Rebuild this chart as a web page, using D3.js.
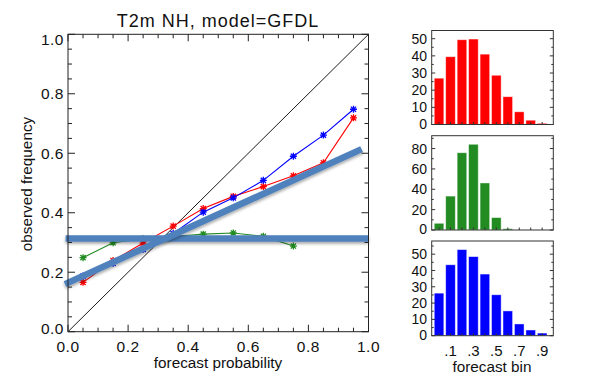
<!DOCTYPE html>
<html>
<head>
<meta charset="utf-8">
<script src="https://cdn.jsdelivr.net/npm/d3@7"></script>
<style>
  html, body { margin: 0; padding: 0; background: #fff; }
  svg { display: block; font-family: "Liberation Sans", Arial, Helvetica, sans-serif; }
</style>
</head>
<body>
<svg id="chart" width="597" height="382"></svg>
<script>
// Reliability diagram: forecast probability bins vs observed frequency
const probBins   = [0.05, 0.15, 0.25, 0.35, 0.45, 0.55, 0.65, 0.75, 0.85, 0.95];
const redObs     = [0.166, 0.239, 0.298, 0.355, 0.414, 0.455, 0.488, 0.524, 0.568, 0.719];
const blueObs    = [0.187, 0.230, 0.277, 0.330, 0.402, 0.450, 0.509, 0.590, 0.661, 0.748];
const greenObs   = [0.249, 0.299, 0.313, 0.320, 0.328, 0.332, 0.321, 0.288];

// Fitted reliability lines
const flatFitX   = [-0.008, 1.0];
const flatFitY   = [0.313, 0.313];
const slopeFitX  = [-0.01, 0.977];
const slopeFitY  = [0.160, 0.614];

const axisTicks  = [0.0, 0.2, 0.4, 0.6, 0.8, 1.0];

// Sharpness histograms (counts per forecast bin)
const binEdges    = [0.0, 0.1, 0.2, 0.3, 0.4, 0.5, 0.6, 0.7, 0.8, 0.9];
const redCounts   = [27.0, 39.5, 49.4, 49.8, 41.0, 28.7, 16.2, 7.4, 2.5, 0.7];
const greenCounts = [6.6, 33.3, 75.9, 84.2, 46.2, 12.2, 1.3, 0, 0, 0];
const blueCounts  = [26.1, 43.5, 52.8, 48.5, 37.8, 25.1, 15.2, 7.2, 3.5, 1.6];
const binLabelAt  = [0.1, 0.3, 0.5, 0.7, 0.9];
const binLabels   = [".1", ".3", ".5", ".7", ".9"];

const RED = "#ff0000", GREEN = "#228b22", BLUE = "#0000ff", FIT = "#4f81bd";

const svg = d3.select("#chart");
const defs = svg.append("defs");
const shadow = defs.append("filter").attr("id", "fitShadow")
  .attr("filterUnits", "userSpaceOnUse")
  .attr("x", 0).attr("y", 0).attr("width", 597).attr("height", 382);
shadow.append("feDropShadow").attr("dx", 0).attr("dy", 2).attr("stdDeviation", 1.4)
  .attr("flood-color", "#000").attr("flood-opacity", 0.35);

// ---------- main reliability panel ----------
const x = d3.scaleLinear().domain([0, 1]).range([68, 368.5]);
const y = d3.scaleLinear().domain([0, 1]).range([331.7, 34.3]);

const main = svg.append("g");

// diagonal of perfect reliability
main.append("line")
  .attr("x1", x(0)).attr("y1", y(0)).attr("x2", x(1)).attr("y2", y(1))
  .attr("stroke", "#000").attr("stroke-width", 0.9);

const line = d3.line().x(d => x(d[0])).y(d => y(d[1]));
const asterisk = "M-3.5,0H3.5M0,-3.5V3.5M-2.6,-2.6L2.6,2.6M-2.6,2.6L2.6,-2.6";

function series(vals, color) {
  const pts = vals.map((v, i) => [probBins[i], v]);
  main.append("path").attr("d", line(pts))
    .attr("fill", "none").attr("stroke", color).attr("stroke-width", 1.1);
  main.append("g").selectAll("path").data(pts).join("path")
    .attr("transform", d => `translate(${x(d[0])},${y(d[1])})`)
    .attr("d", asterisk).attr("stroke", color).attr("stroke-width", 1.3).attr("fill", "none");
}
series(greenObs, GREEN);
series(redObs, RED);
series(blueObs, BLUE);

// fitted lines
[[flatFitX, flatFitY], [slopeFitX, slopeFitY]].forEach(([fx, fy]) => {
  main.append("path").attr("d", line(fx.map((v, i) => [v, fy[i]])))
    .attr("fill", "none").attr("stroke", FIT).attr("stroke-width", 6.5)
    .attr("filter", "url(#fitShadow)");
});

// frame with inward ticks on all sides
main.append("rect")
  .attr("x", x(0)).attr("y", y(1)).attr("width", x(1) - x(0)).attr("height", y(0) - y(1))
  .attr("fill", "none").attr("stroke", "#222").attr("stroke-width", 1);

const minor = d3.range(0, 1.0001, 0.05);
const tickLen = v => (Math.abs(v * 5 - Math.round(v * 5)) < 1e-6 ? 7 : 4);
const tg = main.append("g").attr("stroke", "#222").attr("stroke-width", 1);
minor.forEach(v => {
  const L = tickLen(v);
  tg.append("line").attr("x1", x(v)).attr("x2", x(v)).attr("y1", y(0)).attr("y2", y(0) - L);
  tg.append("line").attr("x1", x(v)).attr("x2", x(v)).attr("y1", y(1)).attr("y2", y(1) + L);
  tg.append("line").attr("y1", y(v)).attr("y2", y(v)).attr("x1", x(0)).attr("x2", x(0) + L);
  tg.append("line").attr("y1", y(v)).attr("y2", y(v)).attr("x1", x(1)).attr("x2", x(1) - L);
});

const fmt = d3.format(".1f");
main.append("g").selectAll("text").data(axisTicks).join("text")
  .attr("x", d => x(d)).attr("y", 352)
  .attr("text-anchor", "middle").attr("font-size", 15.5).attr("letter-spacing", 0.5).attr("fill", "#111")
  .text(fmt);
main.append("g").selectAll("text").data(axisTicks).join("text")
  .attr("x", 64).attr("y", d => y(d) + (d === 1 ? 5.5 : d === 0 ? -3.5 : 0))
  .attr("dy", "0.36em")
  .attr("text-anchor", "end").attr("font-size", 15.5).attr("letter-spacing", 0.5).attr("fill", "#111")
  .text(fmt);

main.append("text").attr("x", 218).attr("y", 26.5).attr("text-anchor", "middle")
  .attr("font-size", 18).attr("letter-spacing", 1).attr("fill", "#111").text("T2m NH, model=GFDL");
main.append("text").attr("x", 218).attr("y", 368).attr("text-anchor", "middle")
  .attr("font-size", 15.3).attr("fill", "#111").text("forecast probability");
main.append("text").attr("transform", "translate(32,184) rotate(-90)")
  .attr("text-anchor", "middle").attr("font-size", 15.3).attr("fill", "#111")
  .text("observed frequency");

// ---------- sharpness histograms ----------
const hx = d3.scaleLinear().domain([-0.064, 0.997]).range([431.7, 553.3]);
const barW = 9.6;

function histogram(counts, color, top, bottom, step, minorStep, showX) {
  const hy = d3.scaleLinear().domain([0, d3.max(counts) * 1.1]).range([bottom, top]);
  const g = svg.append("g");
  g.append("g").selectAll("rect").data(counts).join("rect")
    .attr("x", (d, i) => hx(binEdges[i]) - barW / 2)
    .attr("width", barW)
    .attr("y", d => hy(d)).attr("height", d => bottom - hy(d))
    .attr("fill", color).attr("stroke", "#fff").attr("stroke-opacity", 0.55).attr("stroke-width", 0.8);

  g.append("rect").attr("x", hx.range()[0]).attr("y", top)
    .attr("width", hx.range()[1] - hx.range()[0]).attr("height", bottom - top)
    .attr("fill", "none").attr("stroke", "#333").attr("stroke-width", 1);

  const t = g.append("g").attr("stroke", "#333").attr("stroke-width", 1);
  const ymax = hy.domain()[1];
  d3.range(0, ymax, minorStep).forEach(v => {
    const L = Math.abs(v / step - Math.round(v / step)) < 1e-6 ? 3.5 : 2;
    t.append("line").attr("x1", hx.range()[0]).attr("x2", hx.range()[0] + L).attr("y1", hy(v)).attr("y2", hy(v));
    t.append("line").attr("x1", hx.range()[1]).attr("x2", hx.range()[1] - L).attr("y1", hy(v)).attr("y2", hy(v));
  });
  binEdges.forEach(b => {
    t.append("line").attr("x1", hx(b)).attr("x2", hx(b)).attr("y1", bottom).attr("y2", bottom - 2.5);
  });

  const majors = d3.range(0, ymax, step);
  g.append("g").selectAll("text").data(majors).join("text")
    .attr("x", 427).attr("y", d => hy(d) + (d === 0 ? -1 : 0)).attr("dy", "0.36em")
    .attr("text-anchor", "end").attr("font-size", 14).attr("fill", "#111")
    .text(d => d);

  if (showX) {
    g.append("g").selectAll("text").data(binLabelAt).join("text")
      .attr("x", d => hx(d)).attr("y", bottom + 20)
      .attr("text-anchor", "middle").attr("font-size", 15).attr("fill", "#111")
      .text((d, i) => binLabels[i]);
    g.append("text").attr("x", 492).attr("y", 372).attr("text-anchor", "middle")
      .attr("font-size", 15.3).attr("fill", "#111").text("forecast bin");
  }
}

histogram(redCounts,   RED,   30.5, 124.5, 10, 5, false);
histogram(greenCounts, GREEN, 135.7, 230, 20, 10, false);
histogram(blueCounts,  BLUE,  241, 335.7, 10, 5, true);
</script>
</body>
</html>
